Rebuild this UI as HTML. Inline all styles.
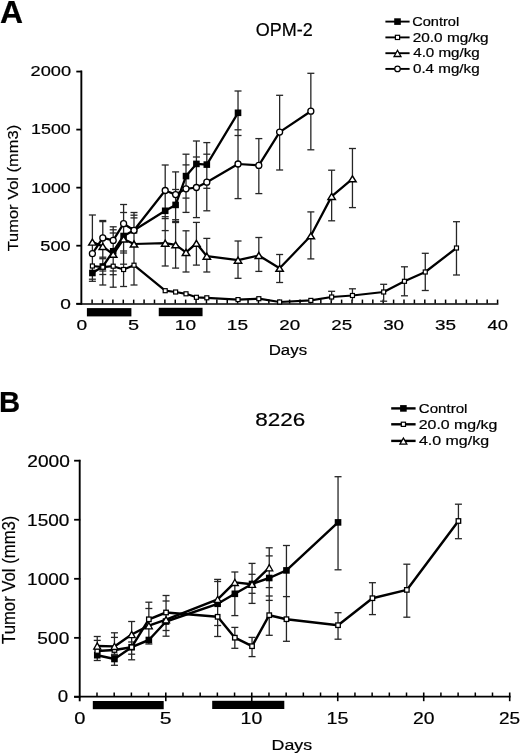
<!DOCTYPE html><html><head><meta charset="utf-8"><style>html,body{margin:0;padding:0;background:#fff;}svg{display:block;will-change:transform;}text{font-family:"Liberation Sans",sans-serif;fill:#000;stroke:#000;stroke-width:0.2px;}</style></head><body>
<svg width="520" height="755" viewBox="0 0 520 755">
<rect width="520" height="755" fill="#fff"/>
<g stroke="#000" fill="none">
<line x1="81.35" y1="70.6" x2="81.35" y2="304.5" stroke-width="1.9"/>
<line x1="76.3" y1="303.75" x2="82" y2="303.75" stroke-width="1.8"/>
<line x1="76.3" y1="245.70" x2="82" y2="245.70" stroke-width="1.8"/>
<line x1="76.3" y1="187.65" x2="82" y2="187.65" stroke-width="1.8"/>
<line x1="76.3" y1="129.60" x2="82" y2="129.60" stroke-width="1.8"/>
<line x1="76.3" y1="71.55" x2="82" y2="71.55" stroke-width="1.8"/>
<line x1="76.3" y1="304.0" x2="498.4" y2="304.0" stroke-width="1.7"/>
<line x1="92.10" y1="299.6" x2="92.10" y2="303.5" stroke-width="1.5"/>
<line x1="102.49" y1="299.6" x2="102.49" y2="303.5" stroke-width="1.5"/>
<line x1="112.89" y1="299.6" x2="112.89" y2="303.5" stroke-width="1.5"/>
<line x1="123.29" y1="299.6" x2="123.29" y2="303.5" stroke-width="1.5"/>
<line x1="133.69" y1="299.6" x2="133.69" y2="303.5" stroke-width="1.5"/>
<line x1="144.08" y1="299.6" x2="144.08" y2="303.5" stroke-width="1.5"/>
<line x1="154.48" y1="299.6" x2="154.48" y2="303.5" stroke-width="1.5"/>
<line x1="164.88" y1="299.6" x2="164.88" y2="303.5" stroke-width="1.5"/>
<line x1="175.27" y1="299.6" x2="175.27" y2="303.5" stroke-width="1.5"/>
<line x1="185.67" y1="299.6" x2="185.67" y2="303.5" stroke-width="1.5"/>
<line x1="196.07" y1="299.6" x2="196.07" y2="303.5" stroke-width="1.5"/>
<line x1="206.46" y1="299.6" x2="206.46" y2="303.5" stroke-width="1.5"/>
<line x1="216.86" y1="299.6" x2="216.86" y2="303.5" stroke-width="1.5"/>
<line x1="227.26" y1="299.6" x2="227.26" y2="303.5" stroke-width="1.5"/>
<line x1="237.66" y1="299.6" x2="237.66" y2="303.5" stroke-width="1.5"/>
<line x1="248.05" y1="299.6" x2="248.05" y2="303.5" stroke-width="1.5"/>
<line x1="258.45" y1="299.6" x2="258.45" y2="303.5" stroke-width="1.5"/>
<line x1="268.85" y1="299.6" x2="268.85" y2="303.5" stroke-width="1.5"/>
<line x1="279.24" y1="299.6" x2="279.24" y2="303.5" stroke-width="1.5"/>
<line x1="289.64" y1="299.6" x2="289.64" y2="303.5" stroke-width="1.5"/>
<line x1="300.04" y1="299.6" x2="300.04" y2="303.5" stroke-width="1.5"/>
<line x1="310.43" y1="299.6" x2="310.43" y2="303.5" stroke-width="1.5"/>
<line x1="320.83" y1="299.6" x2="320.83" y2="303.5" stroke-width="1.5"/>
<line x1="331.23" y1="299.6" x2="331.23" y2="303.5" stroke-width="1.5"/>
<line x1="341.62" y1="299.6" x2="341.62" y2="303.5" stroke-width="1.5"/>
<line x1="352.02" y1="299.6" x2="352.02" y2="303.5" stroke-width="1.5"/>
<line x1="362.42" y1="299.6" x2="362.42" y2="303.5" stroke-width="1.5"/>
<line x1="372.82" y1="299.6" x2="372.82" y2="303.5" stroke-width="1.5"/>
<line x1="383.21" y1="299.6" x2="383.21" y2="303.5" stroke-width="1.5"/>
<line x1="393.61" y1="299.6" x2="393.61" y2="303.5" stroke-width="1.5"/>
<line x1="404.01" y1="299.6" x2="404.01" y2="303.5" stroke-width="1.5"/>
<line x1="414.40" y1="299.6" x2="414.40" y2="303.5" stroke-width="1.5"/>
<line x1="424.80" y1="299.6" x2="424.80" y2="303.5" stroke-width="1.5"/>
<line x1="435.20" y1="299.6" x2="435.20" y2="303.5" stroke-width="1.5"/>
<line x1="445.59" y1="299.6" x2="445.59" y2="303.5" stroke-width="1.5"/>
<line x1="455.99" y1="299.6" x2="455.99" y2="303.5" stroke-width="1.5"/>
<line x1="466.39" y1="299.6" x2="466.39" y2="303.5" stroke-width="1.5"/>
<line x1="476.79" y1="299.6" x2="476.79" y2="303.5" stroke-width="1.5"/>
<line x1="487.18" y1="299.6" x2="487.18" y2="303.5" stroke-width="1.5"/>
<line x1="497.58" y1="299.6" x2="497.58" y2="303.5" stroke-width="1.5"/>
</g>
<rect x="86.9" y="308.1" width="44.5" height="8.3" fill="#000"/>
<rect x="158.75" y="307.8" width="43.8" height="8.4" fill="#000"/>
<g stroke="#000" fill="none">
<line x1="79.7" y1="459.8" x2="79.7" y2="701.3" stroke-width="1.9"/>
<line x1="74.1" y1="696.90" x2="80.3" y2="696.90" stroke-width="1.8"/>
<line x1="74.1" y1="637.85" x2="80.3" y2="637.85" stroke-width="1.8"/>
<line x1="74.1" y1="578.80" x2="80.3" y2="578.80" stroke-width="1.8"/>
<line x1="74.1" y1="519.75" x2="80.3" y2="519.75" stroke-width="1.8"/>
<line x1="74.1" y1="460.70" x2="80.3" y2="460.70" stroke-width="1.8"/>
<line x1="74.1" y1="696.6" x2="510.6" y2="696.6" stroke-width="1.6"/>
<line x1="97.00" y1="692.5" x2="97.00" y2="696" stroke-width="1.5"/>
<line x1="114.19" y1="692.5" x2="114.19" y2="696" stroke-width="1.5"/>
<line x1="131.39" y1="692.5" x2="131.39" y2="696" stroke-width="1.5"/>
<line x1="148.58" y1="692.5" x2="148.58" y2="696" stroke-width="1.5"/>
<line x1="165.78" y1="692.5" x2="165.78" y2="701.2" stroke-width="1.6"/>
<line x1="182.98" y1="692.5" x2="182.98" y2="696" stroke-width="1.5"/>
<line x1="200.17" y1="692.5" x2="200.17" y2="696" stroke-width="1.5"/>
<line x1="217.37" y1="692.5" x2="217.37" y2="696" stroke-width="1.5"/>
<line x1="234.56" y1="692.5" x2="234.56" y2="696" stroke-width="1.5"/>
<line x1="251.76" y1="692.5" x2="251.76" y2="701.2" stroke-width="1.6"/>
<line x1="268.96" y1="692.5" x2="268.96" y2="696" stroke-width="1.5"/>
<line x1="286.15" y1="692.5" x2="286.15" y2="696" stroke-width="1.5"/>
<line x1="303.35" y1="692.5" x2="303.35" y2="696" stroke-width="1.5"/>
<line x1="320.54" y1="692.5" x2="320.54" y2="696" stroke-width="1.5"/>
<line x1="337.74" y1="692.5" x2="337.74" y2="701.2" stroke-width="1.6"/>
<line x1="354.94" y1="692.5" x2="354.94" y2="696" stroke-width="1.5"/>
<line x1="372.13" y1="692.5" x2="372.13" y2="696" stroke-width="1.5"/>
<line x1="389.33" y1="692.5" x2="389.33" y2="696" stroke-width="1.5"/>
<line x1="406.52" y1="692.5" x2="406.52" y2="696" stroke-width="1.5"/>
<line x1="423.72" y1="692.5" x2="423.72" y2="701.2" stroke-width="1.6"/>
<line x1="440.92" y1="692.5" x2="440.92" y2="696" stroke-width="1.5"/>
<line x1="458.11" y1="692.5" x2="458.11" y2="696" stroke-width="1.5"/>
<line x1="475.31" y1="692.5" x2="475.31" y2="696" stroke-width="1.5"/>
<line x1="492.50" y1="692.5" x2="492.50" y2="696" stroke-width="1.5"/>
<line x1="509.70" y1="692.5" x2="509.70" y2="701.2" stroke-width="1.6"/>
</g>
<rect x="92.8" y="701.0" width="70.9" height="8.2" fill="#000"/>
<rect x="212.2" y="700.8" width="72.1" height="8.2" fill="#000"/>
<g stroke="#262626" stroke-width="1.3" fill="none">
<line x1="92.39" y1="215.00" x2="92.39" y2="281.30"/>
<line x1="88.89" y1="215.00" x2="95.89" y2="215.00"/>
<line x1="88.89" y1="279.20" x2="95.89" y2="279.20"/>
<line x1="88.89" y1="281.30" x2="95.89" y2="281.30"/>
<line x1="102.79" y1="220.50" x2="102.79" y2="285.00"/>
<line x1="99.29" y1="220.50" x2="106.29" y2="220.50"/>
<line x1="99.29" y1="221.60" x2="106.29" y2="221.60"/>
<line x1="99.29" y1="257.20" x2="106.29" y2="257.20"/>
<line x1="99.29" y1="258.70" x2="106.29" y2="258.70"/>
<line x1="99.29" y1="271.00" x2="106.29" y2="271.00"/>
<line x1="99.29" y1="274.50" x2="106.29" y2="274.50"/>
<line x1="99.29" y1="285.00" x2="106.29" y2="285.00"/>
<line x1="113.19" y1="226.80" x2="113.19" y2="287.20"/>
<line x1="109.69" y1="226.80" x2="116.69" y2="226.80"/>
<line x1="109.69" y1="229.80" x2="116.69" y2="229.80"/>
<line x1="109.69" y1="233.00" x2="116.69" y2="233.00"/>
<line x1="109.69" y1="271.00" x2="116.69" y2="271.00"/>
<line x1="109.69" y1="274.70" x2="116.69" y2="274.70"/>
<line x1="109.69" y1="287.20" x2="116.69" y2="287.20"/>
<line x1="123.59" y1="204.50" x2="123.59" y2="286.50"/>
<line x1="120.09" y1="204.50" x2="127.09" y2="204.50"/>
<line x1="120.09" y1="212.50" x2="127.09" y2="212.50"/>
<line x1="120.09" y1="251.00" x2="127.09" y2="251.00"/>
<line x1="120.09" y1="253.00" x2="127.09" y2="253.00"/>
<line x1="120.09" y1="264.20" x2="127.09" y2="264.20"/>
<line x1="120.09" y1="286.50" x2="127.09" y2="286.50"/>
<line x1="134.00" y1="212.50" x2="134.00" y2="285.00"/>
<line x1="130.50" y1="212.50" x2="137.50" y2="212.50"/>
<line x1="130.50" y1="215.20" x2="137.50" y2="215.20"/>
<line x1="130.50" y1="217.90" x2="137.50" y2="217.90"/>
<line x1="130.50" y1="285.00" x2="137.50" y2="285.00"/>
<line x1="165.20" y1="165.00" x2="165.20" y2="266.00"/>
<line x1="161.70" y1="165.00" x2="168.70" y2="165.00"/>
<line x1="161.70" y1="216.70" x2="168.70" y2="216.70"/>
<line x1="161.70" y1="218.60" x2="168.70" y2="218.60"/>
<line x1="161.70" y1="230.60" x2="168.70" y2="230.60"/>
<line x1="161.70" y1="266.00" x2="168.70" y2="266.00"/>
<line x1="175.61" y1="171.90" x2="175.61" y2="268.10"/>
<line x1="172.11" y1="171.90" x2="179.11" y2="171.90"/>
<line x1="172.11" y1="189.50" x2="179.11" y2="189.50"/>
<line x1="172.11" y1="219.70" x2="179.11" y2="219.70"/>
<line x1="172.11" y1="221.40" x2="179.11" y2="221.40"/>
<line x1="172.11" y1="222.50" x2="179.11" y2="222.50"/>
<line x1="172.11" y1="268.10" x2="179.11" y2="268.10"/>
<line x1="186.01" y1="154.20" x2="186.01" y2="212.40"/>
<line x1="186.01" y1="230.80" x2="186.01" y2="272.00"/>
<line x1="182.51" y1="154.20" x2="189.51" y2="154.20"/>
<line x1="182.51" y1="164.90" x2="189.51" y2="164.90"/>
<line x1="182.51" y1="198.10" x2="189.51" y2="198.10"/>
<line x1="182.51" y1="212.40" x2="189.51" y2="212.40"/>
<line x1="182.51" y1="230.80" x2="189.51" y2="230.80"/>
<line x1="182.51" y1="272.00" x2="189.51" y2="272.00"/>
<line x1="196.41" y1="141.00" x2="196.41" y2="217.60"/>
<line x1="196.41" y1="222.40" x2="196.41" y2="265.10"/>
<line x1="192.91" y1="141.00" x2="199.91" y2="141.00"/>
<line x1="192.91" y1="157.00" x2="199.91" y2="157.00"/>
<line x1="192.91" y1="217.60" x2="199.91" y2="217.60"/>
<line x1="192.91" y1="222.40" x2="199.91" y2="222.40"/>
<line x1="192.91" y1="265.10" x2="199.91" y2="265.10"/>
<line x1="206.81" y1="142.60" x2="206.81" y2="210.80"/>
<line x1="206.81" y1="238.40" x2="206.81" y2="272.00"/>
<line x1="203.31" y1="142.60" x2="210.31" y2="142.60"/>
<line x1="203.31" y1="154.20" x2="210.31" y2="154.20"/>
<line x1="203.31" y1="188.30" x2="210.31" y2="188.30"/>
<line x1="203.31" y1="210.80" x2="210.31" y2="210.80"/>
<line x1="203.31" y1="238.40" x2="210.31" y2="238.40"/>
<line x1="203.31" y1="272.00" x2="210.31" y2="272.00"/>
<line x1="238.02" y1="91.00" x2="238.02" y2="198.60"/>
<line x1="238.02" y1="241.00" x2="238.02" y2="278.30"/>
<line x1="234.52" y1="91.00" x2="241.52" y2="91.00"/>
<line x1="234.52" y1="129.80" x2="241.52" y2="129.80"/>
<line x1="234.52" y1="135.50" x2="241.52" y2="135.50"/>
<line x1="234.52" y1="198.60" x2="241.52" y2="198.60"/>
<line x1="234.52" y1="241.00" x2="241.52" y2="241.00"/>
<line x1="234.52" y1="278.30" x2="241.52" y2="278.30"/>
<line x1="258.83" y1="138.60" x2="258.83" y2="193.60"/>
<line x1="258.83" y1="237.50" x2="258.83" y2="271.40"/>
<line x1="255.33" y1="138.60" x2="262.33" y2="138.60"/>
<line x1="255.33" y1="193.60" x2="262.33" y2="193.60"/>
<line x1="255.33" y1="237.50" x2="262.33" y2="237.50"/>
<line x1="255.33" y1="271.40" x2="262.33" y2="271.40"/>
<line x1="279.63" y1="95.30" x2="279.63" y2="170.00"/>
<line x1="279.63" y1="254.50" x2="279.63" y2="282.50"/>
<line x1="276.13" y1="95.30" x2="283.13" y2="95.30"/>
<line x1="276.13" y1="170.00" x2="283.13" y2="170.00"/>
<line x1="276.13" y1="254.50" x2="283.13" y2="254.50"/>
<line x1="276.13" y1="282.50" x2="283.13" y2="282.50"/>
<line x1="310.84" y1="73.30" x2="310.84" y2="149.80"/>
<line x1="310.84" y1="211.90" x2="310.84" y2="258.90"/>
<line x1="307.34" y1="73.30" x2="314.34" y2="73.30"/>
<line x1="307.34" y1="149.80" x2="314.34" y2="149.80"/>
<line x1="307.34" y1="211.90" x2="314.34" y2="211.90"/>
<line x1="307.34" y1="258.90" x2="314.34" y2="258.90"/>
<line x1="331.64" y1="170.20" x2="331.64" y2="220.80"/>
<line x1="331.64" y1="291.30" x2="331.64" y2="301.00"/>
<line x1="328.14" y1="170.20" x2="335.14" y2="170.20"/>
<line x1="328.14" y1="220.80" x2="335.14" y2="220.80"/>
<line x1="328.14" y1="291.30" x2="335.14" y2="291.30"/>
<line x1="352.45" y1="148.50" x2="352.45" y2="207.60"/>
<line x1="352.45" y1="288.80" x2="352.45" y2="301.00"/>
<line x1="348.95" y1="148.50" x2="355.95" y2="148.50"/>
<line x1="348.95" y1="207.60" x2="355.95" y2="207.60"/>
<line x1="348.95" y1="288.80" x2="355.95" y2="288.80"/>
<line x1="383.66" y1="284.30" x2="383.66" y2="301.20"/>
<line x1="380.16" y1="284.30" x2="387.16" y2="284.30"/>
<line x1="380.16" y1="301.20" x2="387.16" y2="301.20"/>
<line x1="404.46" y1="266.80" x2="404.46" y2="295.80"/>
<line x1="400.96" y1="266.80" x2="407.96" y2="266.80"/>
<line x1="400.96" y1="295.80" x2="407.96" y2="295.80"/>
<line x1="425.27" y1="253.30" x2="425.27" y2="290.50"/>
<line x1="421.77" y1="253.30" x2="428.77" y2="253.30"/>
<line x1="421.77" y1="290.50" x2="428.77" y2="290.50"/>
<line x1="456.48" y1="221.70" x2="456.48" y2="275.00"/>
<line x1="452.98" y1="221.70" x2="459.98" y2="221.70"/>
<line x1="452.98" y1="275.00" x2="459.98" y2="275.00"/>
<line x1="97.25" y1="636.50" x2="97.25" y2="660.50"/>
<line x1="93.75" y1="636.50" x2="100.75" y2="636.50"/>
<line x1="93.75" y1="640.40" x2="100.75" y2="640.40"/>
<line x1="93.75" y1="660.50" x2="100.75" y2="660.50"/>
<line x1="114.45" y1="632.80" x2="114.45" y2="665.30"/>
<line x1="110.95" y1="632.80" x2="117.95" y2="632.80"/>
<line x1="110.95" y1="637.40" x2="117.95" y2="637.40"/>
<line x1="110.95" y1="654.30" x2="117.95" y2="654.30"/>
<line x1="110.95" y1="655.50" x2="117.95" y2="655.50"/>
<line x1="110.95" y1="665.30" x2="117.95" y2="665.30"/>
<line x1="131.65" y1="621.50" x2="131.65" y2="659.80"/>
<line x1="128.15" y1="621.50" x2="135.15" y2="621.50"/>
<line x1="128.15" y1="642.00" x2="135.15" y2="642.00"/>
<line x1="128.15" y1="654.20" x2="135.15" y2="654.20"/>
<line x1="128.15" y1="659.80" x2="135.15" y2="659.80"/>
<line x1="148.85" y1="602.20" x2="148.85" y2="644.00"/>
<line x1="145.35" y1="602.20" x2="152.35" y2="602.20"/>
<line x1="145.35" y1="608.50" x2="152.35" y2="608.50"/>
<line x1="145.35" y1="644.00" x2="152.35" y2="644.00"/>
<line x1="166.05" y1="595.50" x2="166.05" y2="636.20"/>
<line x1="162.55" y1="595.50" x2="169.55" y2="595.50"/>
<line x1="162.55" y1="601.00" x2="169.55" y2="601.00"/>
<line x1="162.55" y1="630.50" x2="169.55" y2="630.50"/>
<line x1="162.55" y1="636.20" x2="169.55" y2="636.20"/>
<line x1="217.64" y1="579.40" x2="217.64" y2="636.50"/>
<line x1="214.14" y1="579.40" x2="221.14" y2="579.40"/>
<line x1="214.14" y1="581.50" x2="221.14" y2="581.50"/>
<line x1="214.14" y1="625.50" x2="221.14" y2="625.50"/>
<line x1="214.14" y1="636.50" x2="221.14" y2="636.50"/>
<line x1="234.84" y1="572.00" x2="234.84" y2="615.60"/>
<line x1="234.84" y1="627.40" x2="234.84" y2="648.30"/>
<line x1="231.34" y1="572.00" x2="238.34" y2="572.00"/>
<line x1="231.34" y1="615.60" x2="238.34" y2="615.60"/>
<line x1="231.34" y1="627.40" x2="238.34" y2="627.40"/>
<line x1="231.34" y1="648.30" x2="238.34" y2="648.30"/>
<line x1="252.04" y1="563.40" x2="252.04" y2="603.40"/>
<line x1="252.04" y1="637.40" x2="252.04" y2="656.60"/>
<line x1="248.54" y1="563.40" x2="255.54" y2="563.40"/>
<line x1="248.54" y1="574.30" x2="255.54" y2="574.30"/>
<line x1="248.54" y1="593.30" x2="255.54" y2="593.30"/>
<line x1="248.54" y1="603.40" x2="255.54" y2="603.40"/>
<line x1="248.54" y1="637.40" x2="255.54" y2="637.40"/>
<line x1="248.54" y1="656.60" x2="255.54" y2="656.60"/>
<line x1="269.24" y1="547.80" x2="269.24" y2="635.30"/>
<line x1="265.74" y1="547.80" x2="272.74" y2="547.80"/>
<line x1="265.74" y1="555.90" x2="272.74" y2="555.90"/>
<line x1="265.74" y1="587.60" x2="272.74" y2="587.60"/>
<line x1="265.74" y1="596.00" x2="272.74" y2="596.00"/>
<line x1="265.74" y1="600.40" x2="272.74" y2="600.40"/>
<line x1="265.74" y1="635.30" x2="272.74" y2="635.30"/>
<line x1="286.44" y1="545.50" x2="286.44" y2="641.30"/>
<line x1="282.94" y1="545.50" x2="289.94" y2="545.50"/>
<line x1="282.94" y1="596.60" x2="289.94" y2="596.60"/>
<line x1="282.94" y1="641.30" x2="289.94" y2="641.30"/>
<line x1="338.04" y1="476.70" x2="338.04" y2="569.80"/>
<line x1="338.04" y1="612.70" x2="338.04" y2="639.20"/>
<line x1="334.54" y1="476.70" x2="341.54" y2="476.70"/>
<line x1="334.54" y1="569.80" x2="341.54" y2="569.80"/>
<line x1="334.54" y1="612.70" x2="341.54" y2="612.70"/>
<line x1="334.54" y1="639.20" x2="341.54" y2="639.20"/>
<line x1="372.43" y1="582.70" x2="372.43" y2="614.60"/>
<line x1="368.93" y1="582.70" x2="375.93" y2="582.70"/>
<line x1="368.93" y1="614.60" x2="375.93" y2="614.60"/>
<line x1="406.83" y1="564.20" x2="406.83" y2="617.20"/>
<line x1="403.33" y1="564.20" x2="410.33" y2="564.20"/>
<line x1="403.33" y1="617.20" x2="410.33" y2="617.20"/>
<line x1="458.43" y1="504.20" x2="458.43" y2="538.70"/>
<line x1="454.93" y1="504.20" x2="461.93" y2="504.20"/>
<line x1="454.93" y1="538.70" x2="461.93" y2="538.70"/>
</g>
<polyline points="92.39,273.00 102.79,266.50 113.19,251.30 123.59,236.00 134.00,230.30 165.20,210.80 175.61,204.90 186.01,176.10 196.41,163.90 206.81,164.60 238.02,112.80" fill="none" stroke="#000" stroke-width="2.25" stroke-linejoin="round" stroke-linecap="butt"/>
<rect x="89.09" y="269.70" width="6.6" height="6.6" fill="#000"/>
<rect x="99.49" y="263.20" width="6.6" height="6.6" fill="#000"/>
<rect x="109.89" y="248.00" width="6.6" height="6.6" fill="#000"/>
<rect x="120.30" y="232.70" width="6.6" height="6.6" fill="#000"/>
<rect x="130.70" y="227.00" width="6.6" height="6.6" fill="#000"/>
<rect x="161.90" y="207.50" width="6.6" height="6.6" fill="#000"/>
<rect x="172.31" y="201.60" width="6.6" height="6.6" fill="#000"/>
<rect x="182.71" y="172.80" width="6.6" height="6.6" fill="#000"/>
<rect x="193.11" y="160.60" width="6.6" height="6.6" fill="#000"/>
<rect x="203.51" y="161.30" width="6.6" height="6.6" fill="#000"/>
<rect x="234.72" y="109.50" width="6.6" height="6.6" fill="#000"/>
<polyline points="92.39,266.00 102.79,267.20 113.19,266.20 123.59,269.50 134.00,265.20 165.20,290.70 175.61,292.00 186.01,293.80 196.41,297.30 206.81,297.80 238.02,299.60 258.83,298.70 279.63,302.00 310.84,300.40 331.64,297.00 352.45,295.50 383.66,292.00 404.46,281.30 425.27,272.00 456.48,248.00" fill="none" stroke="#000" stroke-width="2.25" stroke-linejoin="round" stroke-linecap="butt"/>
<rect x="90.39" y="264.00" width="4.0" height="4.0" fill="#fff" stroke="#000" stroke-width="1.2"/>
<rect x="100.79" y="265.20" width="4.0" height="4.0" fill="#fff" stroke="#000" stroke-width="1.2"/>
<rect x="111.19" y="264.20" width="4.0" height="4.0" fill="#fff" stroke="#000" stroke-width="1.2"/>
<rect x="121.59" y="267.50" width="4.0" height="4.0" fill="#fff" stroke="#000" stroke-width="1.2"/>
<rect x="132.00" y="263.20" width="4.0" height="4.0" fill="#fff" stroke="#000" stroke-width="1.2"/>
<rect x="163.20" y="288.70" width="4.0" height="4.0" fill="#fff" stroke="#000" stroke-width="1.2"/>
<rect x="173.61" y="290.00" width="4.0" height="4.0" fill="#fff" stroke="#000" stroke-width="1.2"/>
<rect x="184.01" y="291.80" width="4.0" height="4.0" fill="#fff" stroke="#000" stroke-width="1.2"/>
<rect x="194.41" y="295.30" width="4.0" height="4.0" fill="#fff" stroke="#000" stroke-width="1.2"/>
<rect x="204.81" y="295.80" width="4.0" height="4.0" fill="#fff" stroke="#000" stroke-width="1.2"/>
<rect x="236.02" y="297.60" width="4.0" height="4.0" fill="#fff" stroke="#000" stroke-width="1.2"/>
<rect x="256.83" y="296.70" width="4.0" height="4.0" fill="#fff" stroke="#000" stroke-width="1.2"/>
<rect x="277.63" y="300.00" width="4.0" height="4.0" fill="#fff" stroke="#000" stroke-width="1.2"/>
<rect x="308.84" y="298.40" width="4.0" height="4.0" fill="#fff" stroke="#000" stroke-width="1.2"/>
<rect x="329.64" y="295.00" width="4.0" height="4.0" fill="#fff" stroke="#000" stroke-width="1.2"/>
<rect x="350.45" y="293.50" width="4.0" height="4.0" fill="#fff" stroke="#000" stroke-width="1.2"/>
<rect x="381.66" y="290.00" width="4.0" height="4.0" fill="#fff" stroke="#000" stroke-width="1.2"/>
<rect x="402.46" y="279.30" width="4.0" height="4.0" fill="#fff" stroke="#000" stroke-width="1.2"/>
<rect x="423.27" y="270.00" width="4.0" height="4.0" fill="#fff" stroke="#000" stroke-width="1.2"/>
<rect x="454.48" y="246.00" width="4.0" height="4.0" fill="#fff" stroke="#000" stroke-width="1.2"/>
<polyline points="92.39,242.10 102.79,246.40 113.19,254.30 123.59,239.00 134.00,244.00 165.20,243.20 175.61,244.80 186.01,252.40 196.41,243.30 206.81,256.20 238.02,260.20 258.83,255.50 279.63,268.30 310.84,235.80 331.64,196.40 352.45,178.80" fill="none" stroke="#000" stroke-width="2.25" stroke-linejoin="round" stroke-linecap="butt"/>
<polygon points="92.39,239.10 96.09,245.10 88.69,245.10" fill="#fff" stroke="#000" stroke-width="1.45" stroke-linejoin="miter"/>
<polygon points="102.79,243.40 106.49,249.40 99.09,249.40" fill="#fff" stroke="#000" stroke-width="1.45" stroke-linejoin="miter"/>
<polygon points="113.19,251.30 116.89,257.30 109.49,257.30" fill="#fff" stroke="#000" stroke-width="1.45" stroke-linejoin="miter"/>
<polygon points="123.59,236.00 127.30,242.00 119.89,242.00" fill="#fff" stroke="#000" stroke-width="1.45" stroke-linejoin="miter"/>
<polygon points="134.00,241.00 137.70,247.00 130.30,247.00" fill="#fff" stroke="#000" stroke-width="1.45" stroke-linejoin="miter"/>
<polygon points="165.20,240.20 168.90,246.20 161.50,246.20" fill="#fff" stroke="#000" stroke-width="1.45" stroke-linejoin="miter"/>
<polygon points="175.61,241.80 179.31,247.80 171.91,247.80" fill="#fff" stroke="#000" stroke-width="1.45" stroke-linejoin="miter"/>
<polygon points="186.01,249.40 189.71,255.40 182.31,255.40" fill="#fff" stroke="#000" stroke-width="1.45" stroke-linejoin="miter"/>
<polygon points="196.41,240.30 200.11,246.30 192.71,246.30" fill="#fff" stroke="#000" stroke-width="1.45" stroke-linejoin="miter"/>
<polygon points="206.81,253.20 210.51,259.20 203.12,259.20" fill="#fff" stroke="#000" stroke-width="1.45" stroke-linejoin="miter"/>
<polygon points="238.02,257.20 241.72,263.20 234.32,263.20" fill="#fff" stroke="#000" stroke-width="1.45" stroke-linejoin="miter"/>
<polygon points="258.83,252.50 262.53,258.50 255.13,258.50" fill="#fff" stroke="#000" stroke-width="1.45" stroke-linejoin="miter"/>
<polygon points="279.63,265.30 283.33,271.30 275.93,271.30" fill="#fff" stroke="#000" stroke-width="1.45" stroke-linejoin="miter"/>
<polygon points="310.84,232.80 314.54,238.80 307.14,238.80" fill="#fff" stroke="#000" stroke-width="1.45" stroke-linejoin="miter"/>
<polygon points="331.64,193.40 335.34,199.40 327.94,199.40" fill="#fff" stroke="#000" stroke-width="1.45" stroke-linejoin="miter"/>
<polygon points="352.45,175.80 356.15,181.80 348.75,181.80" fill="#fff" stroke="#000" stroke-width="1.45" stroke-linejoin="miter"/>
<polyline points="92.39,253.60 102.79,237.90 113.19,240.40 123.59,223.70 134.00,230.30 165.20,190.50 175.61,194.60 186.01,188.80 196.41,187.50 206.81,182.20 238.02,164.00 258.83,165.40 279.63,132.10 310.84,111.20" fill="none" stroke="#000" stroke-width="2.25" stroke-linejoin="round" stroke-linecap="butt"/>
<circle cx="92.39" cy="253.60" r="3.0" fill="#fff" stroke="#000" stroke-width="1.3"/>
<circle cx="102.79" cy="237.90" r="3.0" fill="#fff" stroke="#000" stroke-width="1.3"/>
<circle cx="113.19" cy="240.40" r="3.0" fill="#fff" stroke="#000" stroke-width="1.3"/>
<circle cx="123.59" cy="223.70" r="3.0" fill="#fff" stroke="#000" stroke-width="1.3"/>
<circle cx="134.00" cy="230.30" r="3.0" fill="#fff" stroke="#000" stroke-width="1.3"/>
<circle cx="165.20" cy="190.50" r="3.0" fill="#fff" stroke="#000" stroke-width="1.3"/>
<circle cx="175.61" cy="194.60" r="3.0" fill="#fff" stroke="#000" stroke-width="1.3"/>
<circle cx="186.01" cy="188.80" r="3.0" fill="#fff" stroke="#000" stroke-width="1.3"/>
<circle cx="196.41" cy="187.50" r="3.0" fill="#fff" stroke="#000" stroke-width="1.3"/>
<circle cx="206.81" cy="182.20" r="3.0" fill="#fff" stroke="#000" stroke-width="1.3"/>
<circle cx="238.02" cy="164.00" r="3.0" fill="#fff" stroke="#000" stroke-width="1.3"/>
<circle cx="258.83" cy="165.40" r="3.0" fill="#fff" stroke="#000" stroke-width="1.3"/>
<circle cx="279.63" cy="132.10" r="3.0" fill="#fff" stroke="#000" stroke-width="1.3"/>
<circle cx="310.84" cy="111.20" r="3.0" fill="#fff" stroke="#000" stroke-width="1.3"/>
<polyline points="97.25,655.20 114.45,659.00 131.65,647.20 148.85,640.00 166.05,621.50 217.64,603.80 234.84,593.80 252.04,584.00 269.24,578.00 286.44,570.40 338.04,522.40" fill="none" stroke="#000" stroke-width="2.45" stroke-linejoin="round" stroke-linecap="butt"/>
<rect x="93.95" y="651.90" width="6.6" height="6.6" fill="#000"/>
<rect x="111.15" y="655.70" width="6.6" height="6.6" fill="#000"/>
<rect x="128.35" y="643.90" width="6.6" height="6.6" fill="#000"/>
<rect x="145.55" y="636.70" width="6.6" height="6.6" fill="#000"/>
<rect x="162.75" y="618.20" width="6.6" height="6.6" fill="#000"/>
<rect x="214.34" y="600.50" width="6.6" height="6.6" fill="#000"/>
<rect x="231.54" y="590.50" width="6.6" height="6.6" fill="#000"/>
<rect x="248.74" y="580.70" width="6.6" height="6.6" fill="#000"/>
<rect x="265.94" y="574.70" width="6.6" height="6.6" fill="#000"/>
<rect x="283.14" y="567.10" width="6.6" height="6.6" fill="#000"/>
<rect x="334.74" y="519.10" width="6.6" height="6.6" fill="#000"/>
<polyline points="97.25,651.00 114.45,650.00 131.65,647.20 148.85,619.30 166.05,612.50 217.64,616.80 234.84,637.70 252.04,646.20 269.24,615.20 286.44,619.20 338.04,625.20 372.43,598.20 406.83,589.90 458.43,521.00" fill="none" stroke="#000" stroke-width="2.45" stroke-linejoin="round" stroke-linecap="butt"/>
<rect x="95.00" y="648.75" width="4.5" height="4.5" fill="#fff" stroke="#000" stroke-width="1.3"/>
<rect x="112.20" y="647.75" width="4.5" height="4.5" fill="#fff" stroke="#000" stroke-width="1.3"/>
<rect x="129.40" y="644.95" width="4.5" height="4.5" fill="#fff" stroke="#000" stroke-width="1.3"/>
<rect x="146.60" y="617.05" width="4.5" height="4.5" fill="#fff" stroke="#000" stroke-width="1.3"/>
<rect x="163.80" y="610.25" width="4.5" height="4.5" fill="#fff" stroke="#000" stroke-width="1.3"/>
<rect x="215.39" y="614.55" width="4.5" height="4.5" fill="#fff" stroke="#000" stroke-width="1.3"/>
<rect x="232.59" y="635.45" width="4.5" height="4.5" fill="#fff" stroke="#000" stroke-width="1.3"/>
<rect x="249.79" y="643.95" width="4.5" height="4.5" fill="#fff" stroke="#000" stroke-width="1.3"/>
<rect x="266.99" y="612.95" width="4.5" height="4.5" fill="#fff" stroke="#000" stroke-width="1.3"/>
<rect x="284.19" y="616.95" width="4.5" height="4.5" fill="#fff" stroke="#000" stroke-width="1.3"/>
<rect x="335.79" y="622.95" width="4.5" height="4.5" fill="#fff" stroke="#000" stroke-width="1.3"/>
<rect x="370.18" y="595.95" width="4.5" height="4.5" fill="#fff" stroke="#000" stroke-width="1.3"/>
<rect x="404.58" y="587.65" width="4.5" height="4.5" fill="#fff" stroke="#000" stroke-width="1.3"/>
<rect x="456.18" y="518.75" width="4.5" height="4.5" fill="#fff" stroke="#000" stroke-width="1.3"/>
<polyline points="97.25,646.00 114.45,646.40 131.65,634.50 148.85,625.70 166.05,619.70 217.64,599.30 234.84,582.40 252.04,584.30 269.24,567.70" fill="none" stroke="#000" stroke-width="2.45" stroke-linejoin="round" stroke-linecap="butt"/>
<polygon points="97.25,642.90 100.75,649.10 93.75,649.10" fill="#fff" stroke="#000" stroke-width="1.3" stroke-linejoin="miter"/>
<polygon points="114.45,643.30 117.95,649.50 110.95,649.50" fill="#fff" stroke="#000" stroke-width="1.3" stroke-linejoin="miter"/>
<polygon points="131.65,631.40 135.15,637.60 128.15,637.60" fill="#fff" stroke="#000" stroke-width="1.3" stroke-linejoin="miter"/>
<polygon points="148.85,622.60 152.35,628.80 145.35,628.80" fill="#fff" stroke="#000" stroke-width="1.3" stroke-linejoin="miter"/>
<polygon points="166.05,616.60 169.55,622.80 162.55,622.80" fill="#fff" stroke="#000" stroke-width="1.3" stroke-linejoin="miter"/>
<polygon points="217.64,596.20 221.14,602.40 214.14,602.40" fill="#fff" stroke="#000" stroke-width="1.3" stroke-linejoin="miter"/>
<polygon points="234.84,579.30 238.34,585.50 231.34,585.50" fill="#fff" stroke="#000" stroke-width="1.3" stroke-linejoin="miter"/>
<polygon points="252.04,581.20 255.54,587.40 248.54,587.40" fill="#fff" stroke="#000" stroke-width="1.3" stroke-linejoin="miter"/>
<polygon points="269.24,564.60 272.74,570.80 265.74,570.80" fill="#fff" stroke="#000" stroke-width="1.3" stroke-linejoin="miter"/>
<line x1="385.4" y1="21.6" x2="409.6" y2="21.6" stroke="#000" stroke-width="1.9"/><rect x="394.20" y="18.30" width="6.6" height="6.6" fill="#000"/>
<line x1="385.4" y1="37.4" x2="409.6" y2="37.4" stroke="#000" stroke-width="1.9"/><rect x="395.40" y="35.30" width="4.2" height="4.2" fill="#fff" stroke="#000" stroke-width="1.2"/>
<line x1="385.4" y1="53.2" x2="409.6" y2="53.2" stroke="#000" stroke-width="1.9"/><polygon points="397.50,50.30 400.95,56.50 394.05,56.50" fill="#fff" stroke="#000" stroke-width="1.3" stroke-linejoin="miter"/>
<line x1="385.4" y1="68.9" x2="409.6" y2="68.9" stroke="#000" stroke-width="1.9"/><circle cx="397.50" cy="68.90" r="2.75" fill="#fff" stroke="#000" stroke-width="1.2"/>
<line x1="391.2" y1="408.4" x2="415.6" y2="408.4" stroke="#000" stroke-width="2.4"/><rect x="400.10" y="405.10" width="6.6" height="6.6" fill="#000"/>
<line x1="391.2" y1="424.3" x2="415.6" y2="424.3" stroke="#000" stroke-width="2.4"/><rect x="401.30" y="422.20" width="4.2" height="4.2" fill="#fff" stroke="#000" stroke-width="1.2"/>
<line x1="391.2" y1="440.9" x2="415.6" y2="440.9" stroke="#000" stroke-width="2.4"/><polygon points="403.40,438.00 406.85,444.20 399.95,444.20" fill="#fff" stroke="#000" stroke-width="1.3" stroke-linejoin="miter"/>
<text id="tA" x="0.10" y="23.00" font-size="31.50" textLength="23.01" lengthAdjust="spacingAndGlyphs" font-weight="bold">A</text>
<text id="tB" x="-1.01" y="412.00" font-size="29.70" textLength="21.15" lengthAdjust="spacingAndGlyphs" font-weight="bold">B</text>
<text id="tOPM" x="255.80" y="36.00" font-size="17.49" textLength="56.95" lengthAdjust="spacingAndGlyphs">OPM-2</text>
<text id="t8226" x="255.38" y="426.00" font-size="18.38" textLength="49.92" lengthAdjust="spacingAndGlyphs">8226</text>
<text id="lA1" x="412.17" y="26.00" font-size="12.30" textLength="46.98" lengthAdjust="spacingAndGlyphs">Control</text>
<text id="lA2" x="412.79" y="42.00" font-size="12.30" textLength="75.86" lengthAdjust="spacingAndGlyphs">20.0 mg/kg</text>
<text id="lA3" x="413.22" y="57.00" font-size="12.30" textLength="66.55" lengthAdjust="spacingAndGlyphs">4.0 mg/kg</text>
<text id="lA4" x="412.97" y="73.00" font-size="12.30" textLength="66.63" lengthAdjust="spacingAndGlyphs">0.4 mg/kg</text>
<text id="lB1" x="418.76" y="413.00" font-size="12.90" textLength="48.66" lengthAdjust="spacingAndGlyphs">Control</text>
<text id="lB2" x="418.69" y="429.00" font-size="12.90" textLength="78.75" lengthAdjust="spacingAndGlyphs">20.0 mg/kg</text>
<text id="lB3" x="418.95" y="445.00" font-size="12.90" textLength="70.11" lengthAdjust="spacingAndGlyphs">4.0 mg/kg</text>
<text id="yA2000" x="30.61" y="76.00" font-size="14.59" textLength="40.53" lengthAdjust="spacingAndGlyphs">2000</text>
<text id="yA1500" x="31.07" y="134.00" font-size="14.59" textLength="39.70" lengthAdjust="spacingAndGlyphs">1500</text>
<text id="yA1000" x="31.07" y="193.00" font-size="14.59" textLength="39.70" lengthAdjust="spacingAndGlyphs">1000</text>
<text id="yA500" x="40.28" y="251.00" font-size="14.59" textLength="30.45" lengthAdjust="spacingAndGlyphs">500</text>
<text id="yA0" x="60.23" y="309.00" font-size="14.59" textLength="10.64" lengthAdjust="spacingAndGlyphs">0</text>
<text id="xA0" x="76.52" y="330.00" font-size="14.65" textLength="10.66" lengthAdjust="spacingAndGlyphs">0</text>
<text id="xA5" x="128.09" y="330.00" font-size="14.65" textLength="11.07" lengthAdjust="spacingAndGlyphs">5</text>
<text id="xA10" x="174.85" y="330.00" font-size="14.65" textLength="21.19" lengthAdjust="spacingAndGlyphs">10</text>
<text id="xA15" x="226.84" y="330.00" font-size="14.65" textLength="21.18" lengthAdjust="spacingAndGlyphs">15</text>
<text id="xA20" x="279.24" y="330.00" font-size="14.65" textLength="20.88" lengthAdjust="spacingAndGlyphs">20</text>
<text id="xA25" x="331.28" y="330.00" font-size="14.65" textLength="20.86" lengthAdjust="spacingAndGlyphs">25</text>
<text id="xA30" x="383.16" y="330.00" font-size="14.65" textLength="20.86" lengthAdjust="spacingAndGlyphs">30</text>
<text id="xA35" x="435.08" y="330.00" font-size="14.65" textLength="21.04" lengthAdjust="spacingAndGlyphs">35</text>
<text id="xA40" x="487.62" y="330.00" font-size="14.65" textLength="20.38" lengthAdjust="spacingAndGlyphs">40</text>
<text id="dA" x="268.70" y="355.00" font-size="14.59" textLength="38.37" lengthAdjust="spacingAndGlyphs">Days</text>
<text id="yB2000" x="27.28" y="467.00" font-size="16.57" textLength="42.54" lengthAdjust="spacingAndGlyphs">2000</text>
<text id="yB1500" x="27.12" y="526.00" font-size="16.57" textLength="42.25" lengthAdjust="spacingAndGlyphs">1500</text>
<text id="yB1000" x="27.12" y="585.00" font-size="16.57" textLength="42.25" lengthAdjust="spacingAndGlyphs">1000</text>
<text id="yB500" x="37.39" y="644.00" font-size="16.57" textLength="31.90" lengthAdjust="spacingAndGlyphs">500</text>
<text id="yB0" x="57.82" y="702.00" font-size="16.57" textLength="10.40" lengthAdjust="spacingAndGlyphs">0</text>
<text id="xB0" x="74.29" y="724.00" font-size="16.57" textLength="11.18" lengthAdjust="spacingAndGlyphs">0</text>
<text id="xB5" x="159.85" y="724.00" font-size="16.57" textLength="11.76" lengthAdjust="spacingAndGlyphs">5</text>
<text id="xB10" x="240.64" y="724.00" font-size="16.57" textLength="21.68" lengthAdjust="spacingAndGlyphs">10</text>
<text id="xB15" x="326.51" y="724.00" font-size="16.57" textLength="21.90" lengthAdjust="spacingAndGlyphs">15</text>
<text id="xB20" x="413.02" y="724.00" font-size="16.57" textLength="21.51" lengthAdjust="spacingAndGlyphs">20</text>
<text id="xB25" x="499.01" y="724.00" font-size="16.57" textLength="21.18" lengthAdjust="spacingAndGlyphs">25</text>
<text id="dB" x="271.62" y="750.00" font-size="14.70" textLength="40.55" lengthAdjust="spacingAndGlyphs">Days</text>
<text id="ylA" x="18.40" y="251.36" font-size="14.74" textLength="126.51" lengthAdjust="spacingAndGlyphs" transform="rotate(-90 18.40 251.36)">Tumor Vol (mm3)</text>
<text id="ylB" x="14.60" y="643.93" font-size="18.14" textLength="128.37" lengthAdjust="spacingAndGlyphs" transform="rotate(-90 14.60 643.93)">Tumor Vol (mm3)</text>
</svg></body></html>
